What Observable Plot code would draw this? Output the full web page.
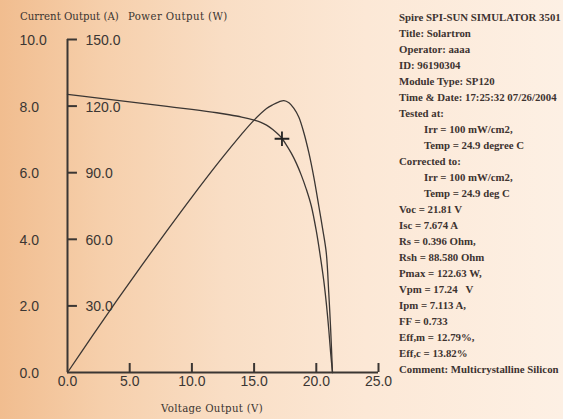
<!DOCTYPE html>
<html><head><meta charset="utf-8">
<script src="https://cdn.jsdelivr.net/npm/d3@7"></script>
<script src="https://cdn.jsdelivr.net/npm/@observablehq/plot@0.6"></script>
<style>
html,body{margin:0;padding:0;}
#wrap{position:relative;width:563px;height:419px;overflow:hidden;
  background:linear-gradient(to right,#f1bd8f 0%,#f6cfab 18%,#f9dec5 40%,#fce8d6 65%,#fdf0e4 100%);}
#wrap svg{position:absolute;left:0;top:0;}
.atitle{position:absolute;font-family:"DejaVu Serif",serif;font-size:10.2px;color:#3a3430;white-space:nowrap;}
#info{position:absolute;left:399px;top:9px;font-family:"Liberation Serif",serif;font-weight:bold;font-size:10.8px;line-height:16px;color:#3d3330;white-space:pre;}
#info .ind{padding-left:25px;}
</style></head><body><div id="wrap"></div>
<script>
// I-V curve (Voltage V, Current A)
const ivVoltage = [0, 2, 4, 6, 8, 10, 12, 13, 14, 15, 15.5, 16, 16.5, 17, 17.26, 17.6, 18, 18.4, 18.8, 19.2, 19.6, 20.0, 20.3, 20.6, 20.8, 21.0, 21.15, 21.3];
const ivCurrent = [8.35, 8.26, 8.17, 8.08, 7.99, 7.90, 7.80, 7.74, 7.67, 7.58, 7.52, 7.43, 7.30, 7.13, 7.02, 6.83, 6.58, 6.28, 5.92, 5.50, 5.00, 4.25, 3.55, 2.76, 2.10, 1.30, 0.60, 0];
// P-V curve (Voltage V, Power W)
const pvVoltage = [0, 2, 4, 6, 8, 10, 12, 13, 14, 15, 16, 16.5, 17, 17.4, 17.8, 18.2, 18.6, 19.0, 19.4, 19.8, 20.2, 20.5, 20.8, 21.0, 21.15, 21.3];
const pvPower = [0, 16.5, 32.7, 48.5, 63.9, 79, 93.6, 100.6, 107.4, 113.7, 118.9, 120.6, 121.9, 122.5, 121.5, 119, 115, 108, 99, 88, 75, 65, 54, 36, 20, 0];
// Maximum power point marker
const mppVoltage = [17.24];
const mppCurrent = [7.02];
// Axis ticks
const currentTicks = [0, 2, 4, 6, 8, 10];
const powerTicks = [30, 60, 90, 120, 150];
const voltageTicks = [0, 5, 10, 15, 20, 25];
// Titles
const currentTitle = "Current Output (A)";
const powerTitle = "Power Output (W)";
const voltageTitle = "Voltage Output (V)";
// Info panel
const infoHeader = ["Spire SPI-SUN SIMULATOR 3501", "Title: Solartron", "Operator: aaaa", "ID: 96190304", "Module Type: SP120", "Time & Date: 17:25:32 07/26/2004"];
const testedLabel = "Tested at:";
const testedValues = ["Irr = 100 mW/cm2,", "Temp = 24.9 degree C"];
const correctedLabel = "Corrected to:";
const correctedValues = ["Irr = 100 mW/cm2,", "Temp = 24.9 deg C"];
const results = ["Voc = 21.81 V", "Isc = 7.674 A", "Rs = 0.396 Ohm,", "Rsh = 88.580 Ohm", "Pmax = 122.63 W,", "Vpm = 17.24   V", "Ipm = 7.113 A,", "FF = 0.733", "Eff,m = 12.79%,", "Eff,c = 13.82%", "Comment: Multicrystalline Silicon"];

const wPerA = 150 / 10; // right axis 150 W aligns with 10 A
const iv = ivVoltage.map((v, i) => ({v, i: ivCurrent[i]}));
const pv = pvVoltage.map((v, i) => ({v, p: pvPower[i]}));
const mpp = mppVoltage.map((v, i) => ({v, i: mppCurrent[i]}));
const ink = "#3b3633";

const chart = Plot.plot({
  width: 563, height: 419,
  marginLeft: 67, marginRight: 185, marginTop: 39, marginBottom: 47,
  style: {background: "transparent", fontFamily: "'Liberation Sans', Arial, sans-serif", fontSize: "14px", color: ink, overflow: "visible"},
  x: {domain: [0, 25]},
  y: {domain: [0, 10], axis: null},
  marks: [
    Plot.text(currentTicks, {x: 0, y: d => d, text: d => d.toFixed(1), textAnchor: "start", dx: -48, dy: 1, fontSize: 14, fill: ink}),
    Plot.axisX(voltageTicks, {anchor: "bottom", tickSize: 0, tickPadding: 4, tickFormat: d => d.toFixed(1), fontSize: 14, label: null}),
    Plot.ruleY(powerTicks, {y: d => d / wPerA, x1: 0, x2: 0.8, stroke: ink, strokeWidth: 2}),
    Plot.text(powerTicks, {y: d => d / wPerA, x: 0, text: d => d.toFixed(1), textAnchor: "start", dx: 18, dy: 1, fontSize: 14, fill: ink}),
    Plot.ruleX(voltageTicks.filter(d => d > 0), {x: d => d, y1: 0, y2: 0.27, stroke: ink, strokeWidth: 2}),
    Plot.ruleX([0], {y1: 0, y2: 10, stroke: ink, strokeWidth: 2}),
    Plot.ruleY([0], {x1: 0, x2: 25, stroke: ink, strokeWidth: 2}),
    Plot.line(iv, {x: "v", y: "i", curve: "catmull-rom", stroke: ink, strokeWidth: 1.3}),
    Plot.line(pv, {x: "v", y: d => d.p / wPerA, curve: "catmull-rom", stroke: ink, strokeWidth: 1.3}),
    Plot.dot(mpp, {x: "v", y: "i", symbol: "plus", r: 4.8, stroke: "#222", strokeWidth: 1.8})
  ]
});
const wrap = document.getElementById("wrap");
wrap.appendChild(chart);

function addTitle(text, left, top, center, spacing) {
  const d = document.createElement("div");
  d.className = "atitle";
  d.textContent = text;
  d.style.left = left + "px";
  d.style.top = top + "px";
  if (spacing) d.style.letterSpacing = spacing + "px";
  if (center) d.style.transform = "translateX(-50%)";
  wrap.appendChild(d);
}
addTitle(currentTitle, 20, 11);
addTitle(powerTitle, 128, 11, false, 0.4);
addTitle(voltageTitle, 212, 403, true, 0.3);

const info = document.createElement("div");
info.id = "info";
const addLine = (t, indent) => {
  const d = document.createElement("div");
  d.textContent = t;
  if (indent) d.className = "ind";
  info.appendChild(d);
};
infoHeader.forEach(t => addLine(t));
addLine(testedLabel);
testedValues.forEach(t => addLine(t, true));
addLine(correctedLabel);
correctedValues.forEach(t => addLine(t, true));
results.forEach(t => addLine(t));
wrap.appendChild(info);
</script>
</body></html>
